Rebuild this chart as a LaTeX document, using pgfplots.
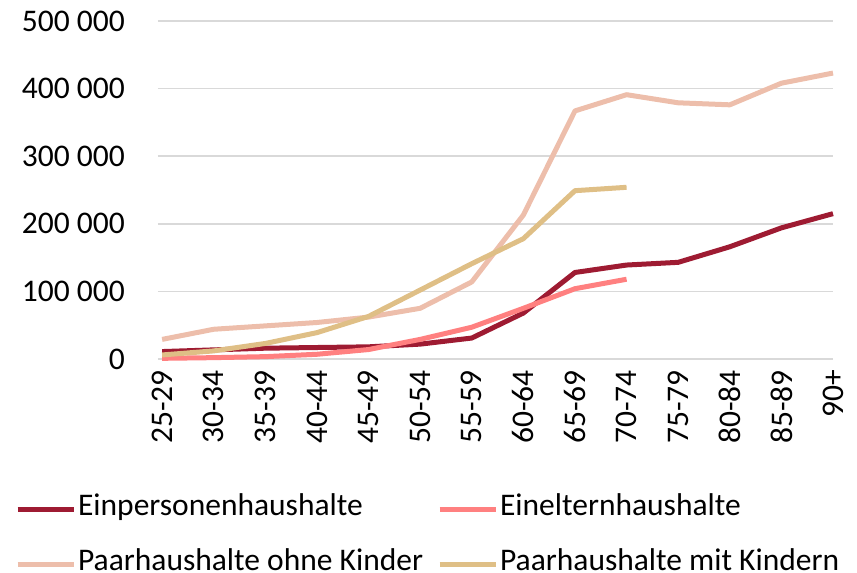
\documentclass[border=0pt]{standalone}
\usepackage{fontspec}
\setmainfont{Carlito}
\usepackage{pgfplots}
\pgfplotsset{compat=1.18}
\definecolor{cEin}{RGB}{158,27,50}
\definecolor{cElt}{RGB}{255,128,128}
\definecolor{cOhne}{RGB}{237,190,171}
\definecolor{cMit}{RGB}{223,191,134}
\definecolor{cGrid}{RGB}{217,217,217}
\begin{document}
\begin{tikzpicture}[font=\fontsize{31.5bp}{37.8bp}\selectfont]
\begin{axis}[
  name=ax,
  scale only axis,
  width=675bp, height=338bp,
  xmin=-0.08, xmax=13,
  ymin=0, ymax=500000,
  scaled y ticks=false,
  clip=false,
  axis line style={draw=none},
  major tick length=0pt,
  ymajorgrids,
  grid style={cGrid, line width=1.5bp},
  ytick={0,100000,200000,300000,400000,500000},
  yticklabels={0,100 000,200 000,300 000,400 000,500 000},
  yticklabel style={inner sep=0pt, xshift=-33bp, anchor=east},
  xtick={0,...,13},
  xticklabels={25-29,30-34,35-39,40-44,45-49,50-54,55-59,60-64,65-69,70-74,75-79,80-84,85-89,90+},
  xticklabel style={inner sep=0pt, yshift=-11bp, rotate=90, anchor=east},
  legend columns=2,
  legend cell align=left,
  legend style={draw=none, fill=none, at={(-0.212,-0.391)}, anchor=north west,
    inner sep=0pt, row sep=28bp,
    nodes={inner sep=2bp},
    /tikz/every even column/.append style={column sep=12bp}},
  legend image code/.code={\draw[#1, line width=5bp] (0bp,-4bp) -- (56bp,-4bp);},
  every axis plot/.append style={line width=5bp, line join=round},
]
\addplot[cEin] coordinates {(0,11000)(1,13500)(2,16000)(3,17000)(4,18000)(5,22000)(6,31000)(7,68000)(8,128000)(9,139000)(10,143000)(11,166000)(12,194000)(13,215000)};
\addlegendentry{Einpersonenhaushalte}
\addplot[cElt] coordinates {(0,1000)(1,2000)(2,3500)(3,7000)(4,14000)(5,29000)(6,47000)(7,75000)(8,104000)(9,118000)};
\addlegendentry{Einelternhaushalte}
\addplot[cOhne] coordinates {(0,29000)(1,44000)(2,49000)(3,54000)(4,62000)(5,75000)(6,114000)(7,213000)(8,367000)(9,391000)(10,379000)(11,376000)(12,408000)(13,423000)};
\addlegendentry{Paarhaushalte ohne Kinder}
\addplot[cMit] coordinates {(0,6000)(1,12000)(2,23000)(3,39000)(4,63000)(5,102000)(6,141000)(7,178000)(8,249000)(9,254000)};
\addlegendentry{Paarhaushalte mit Kindern}
\end{axis}
\pgfresetboundingbox
\path[use as bounding box] ([shift={(-158bp,-214bp)}]ax.south west) rectangle ([shift={(24bp,21bp)}]ax.north east);
\end{tikzpicture}
\end{document}
